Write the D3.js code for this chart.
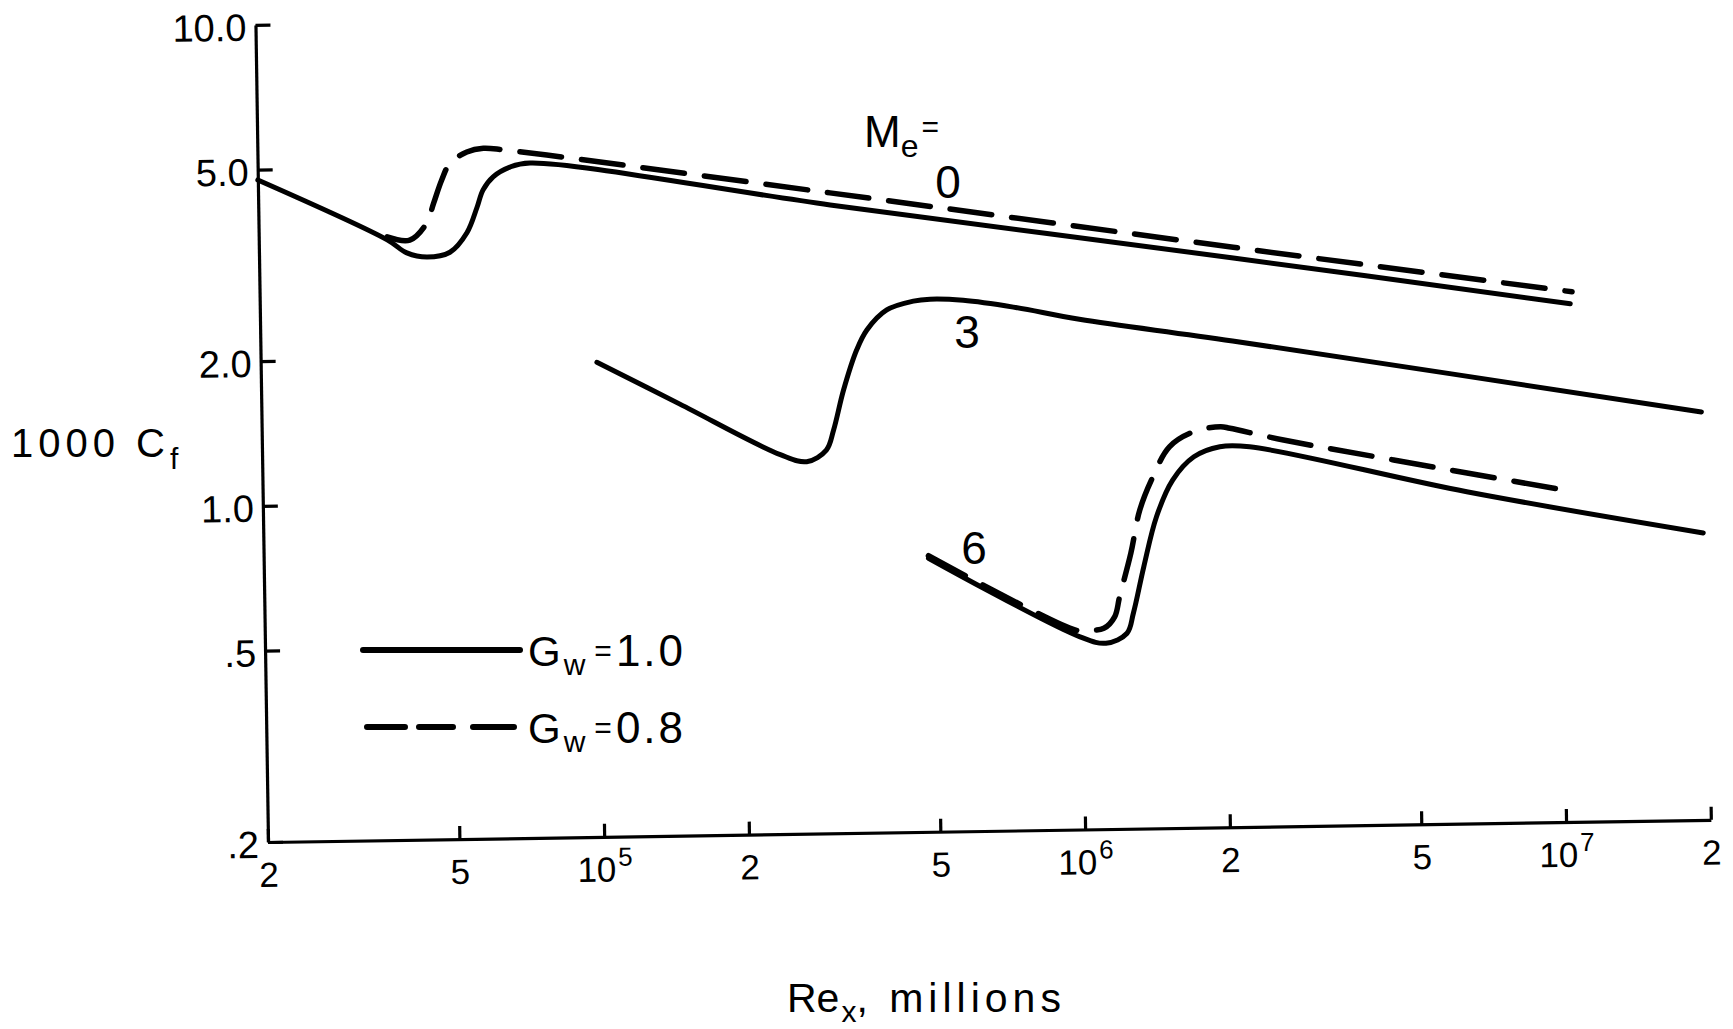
<!DOCTYPE html>
<html><head><meta charset="utf-8">
<script src="https://cdn.jsdelivr.net/npm/d3@7"></script>
<style>
html,body{margin:0;padding:0;background:#fff;}
svg{display:block;}
text{font-family:"Liberation Sans",Arial,sans-serif;fill:#000;}
</style>
</head><body>
<svg id="chart" width="1733" height="1029"></svg>
<script>
// ---- axis ticks ----
const xTickValues = [2e4, 5e4, 1e5, 2e5, 5e5, 1e6, 2e6, 5e6, 1e7, 2e7];
const xTickLabels = ["2", "5", "10^5", "2", "5", "10^6", "2", "5", "10^7", "2"];
const yTickValues = [0.2, 0.5, 1, 2, 5, 10];
const yTickLabels = [".2", ".5", "1.0", "2.0", "5.0", "10.0"];

// ---- series: Re_x and 1000 Cf ----
// Me = 0, Gw = 1.0 (solid)
const reM0G10 = [2.0e4, 3.70e4, 4.06e4, 4.47e4, 4.99e4, 5.42e4, 5.70e4, 5.87e4, 6.17e4, 6.69e4, 7.37e4, 3.09e5, 2.12e6, 1.06e7];
const cfM0G10 = [4.76, 3.54, 3.32, 3.25, 3.32, 3.64, 4.11, 4.46, 4.75, 4.97, 5.06, 4.05, 3.05, 2.39];
// Me = 0, Gw = 0.8 (dashed)
const reM0G08 = [3.70e4, 4.12e4, 4.47e4, 4.63e4, 4.82e4, 5.02e4, 5.45e4, 5.90e4, 6.49e4, 7.99e4, 3.09e5, 2.12e6, 1.07e7];
const cfM0G08 = [3.59, 3.53, 3.82, 4.20, 4.69, 5.08, 5.36, 5.45, 5.40, 5.25, 4.29, 3.21, 2.53];
// Me = 3, Gw = 1.0 (solid)
const reM3G10 = [1.00e5, 1.48e5, 2.39e5, 2.71e5, 2.98e5, 3.09e5, 3.25e5, 3.47e5, 3.65e5, 4.02e5, 4.57e5, 4.95e5, 5.80e5, 7.37e5, 1.01e6, 2.10e6, 1.97e7];
const cfM3G10 = [1.94, 1.58, 1.23, 1.187, 1.253, 1.379, 1.668, 2.018, 2.22, 2.44, 2.54, 2.56, 2.54, 2.45, 2.30, 2.05, 1.41];
// Me = 6, Gw = 1.0 (solid)
const reM6G10 = [4.82e5, 9.90e5, 1.12e6, 1.24e6, 1.28e6, 1.35e6, 1.44e6, 1.56e6, 1.73e6, 1.96e6, 2.26e6, 6.37e6, 1.97e7];
const cfM6G10 = [0.741, 0.503, 0.487, 0.510, 0.561, 0.700, 0.889, 1.058, 1.181, 1.237, 1.234, 0.979, 0.790];
// Me = 6, Gw = 0.8 (dashed)
const reM6G08 = [4.82e5, 9.67e5, 1.01e6, 1.11e6, 1.17e6, 1.20e6, 1.27e6, 1.33e6, 1.42e6, 1.54e6, 1.73e6, 1.97e6, 2.06e6, 2.66e6, 4.50e6, 9.94e6];
const cfM6G08 = [0.750, 0.520, 0.519, 0.523, 0.552, 0.608, 0.747, 0.919, 1.077, 1.241, 1.331, 1.361, 1.350, 1.271, 1.146, 0.984];

const seriesList = [
  {re: reM0G10, cf: cfM0G10, dashed: false},
  {re: reM0G08, cf: cfM0G08, dashed: true},
  {re: reM3G10, cf: cfM3G10, dashed: false},
  {re: reM6G10, cf: cfM6G10, dashed: false},
  {re: reM6G08, cf: cfM6G08, dashed: true}
];

const curveLabels = [
  {t: "0", x: 948, y: 181},
  {t: "3", x: 967, y: 331},
  {t: "6", x: 974, y: 547}
];

// ---- layout ----
const svg = d3.select("#chart");
const x0 = 268, y0 = 842, decade = 481;
const x = d3.scaleLog().domain([2e4, 2e7]).range([x0, x0 + 3 * decade]);
const y = d3.scaleLog().domain([0.2, 10]).range([y0, y0 - Math.log10(50) * decade]);

// the scanned figure is slightly rotated
const plot = svg.append("g").attr("transform", `rotate(-0.88, ${x0}, ${y0})`);

// y axis
const yAxis = d3.axisLeft(y).tickValues(yTickValues)
  .tickFormat((d, i) => yTickLabels[i]).tickSizeInner(-15).tickSizeOuter(0).tickPadding(9);
const gy = plot.append("g").attr("transform", `translate(${x0},0)`).call(yAxis);
gy.select(".domain").attr("stroke", "#000").attr("stroke-width", 3.2);
gy.selectAll(".tick line").attr("stroke", "#000").attr("stroke-width", 3.2);
gy.selectAll(".tick text").attr("font-size", 38).attr("dy", "0.4em")
  .style("font-family", '"Liberation Sans", Arial, sans-serif');

// x axis
const xAxis = d3.axisBottom(x).tickValues(xTickValues)
  .tickFormat(() => "").tickSizeInner(-13).tickSizeOuter(0).tickPadding(20);
const gx = plot.append("g").attr("transform", `translate(0,${y0})`).call(xAxis);
gx.select(".domain").attr("stroke", "#000").attr("stroke-width", 3.2);
gx.selectAll(".tick line").attr("stroke", "#000").attr("stroke-width", 3.2);
gx.selectAll(".tick text").each(function(d, i) {
  const t = d3.select(this).attr("font-size", 35).attr("dy", "0.71em")
    .style("font-family", '"Liberation Sans", Arial, sans-serif');
  const lab = xTickLabels[i];
  if (lab.includes("^")) {
    const [base, sup] = lab.split("^");
    t.append("tspan").text(base);
    t.append("tspan").text(sup).attr("font-size", 26).attr("dy", "-0.6em").attr("dx", 2);
  } else {
    t.text(lab);
  }
});

// curves
const line = d3.line()
  .x(d => x(d[0])).y(d => y(d[1]))
  .curve(d3.curveCatmullRom.alpha(0.5));
seriesList.forEach(s => {
  const pts = s.re.map((r, i) => [r, s.cf[i]]);
  plot.append("path").datum(pts)
    .attr("d", line)
    .attr("fill", "none")
    .attr("stroke", "#000")
    .attr("stroke-width", s.dashed ? 5.5 : 5)
    .attr("stroke-linecap", "round")
    .attr("stroke-linejoin", "round")
    .attr("stroke-dasharray", s.dashed ? "42 20" : null);
});

// curve labels
const ann = svg.append("g");
curveLabels.forEach(c => {
  ann.append("text").attr("x", c.x).attr("y", c.y).attr("text-anchor", "middle")
    .attr("dy", "0.36em").attr("font-size", 46).text(c.t);
});
// Me =
const me = ann.append("text").attr("x", 864).attr("y", 147).attr("font-size", 44);
me.append("tspan").text("M");
me.append("tspan").text("e").attr("font-size", 32).attr("dy", 10);
me.append("tspan").text("=").attr("font-size", 30).attr("dy", -20).attr("dx", 3);

// legend
const legend = ann.append("g");
legend.append("line").attr("x1", 363).attr("x2", 520).attr("y1", 650).attr("y2", 650)
  .attr("stroke", "#000").attr("stroke-width", 6).attr("stroke-linecap", "round");
legend.append("line").attr("x1", 367).attr("x2", 514).attr("y1", 727).attr("y2", 727)
  .attr("stroke", "#000").attr("stroke-width", 6).attr("stroke-linecap", "round")
  .attr("stroke-dasharray", "38 14 34 20 44");
[{v: "1.0", yb: 666}, {v: "0.8", yb: 743}].forEach(l => {
  const t = legend.append("text").attr("x", 528).attr("y", l.yb).attr("font-size", 42);
  t.append("tspan").text("G");
  t.append("tspan").text("w").attr("font-size", 30).attr("dy", 9).attr("dx", 3);
  t.append("tspan").text("=").attr("font-size", 30).attr("dy", -14).attr("dx", 9);
  t.append("tspan").text(l.v).attr("dy", 5).attr("dx", 4)
    .attr("font-size", 44).attr("letter-spacing", 3);
});

// axis titles
const yt = ann.append("text").attr("x", 11).attr("y", 457).attr("font-size", 40).attr("letter-spacing", 5);
yt.append("tspan").text("1000 C");
yt.append("tspan").text("f").attr("font-size", 30).attr("dy", 12).attr("dx", 0);

const xt = ann.append("text").attr("x", 787).attr("y", 1012).attr("font-size", 41);
xt.append("tspan").text("Re");
xt.append("tspan").text("x").attr("font-size", 30).attr("dy", 10).attr("dx", 2);
xt.append("tspan").text(", millions").attr("dy", -10).attr("letter-spacing", 5);
</script>
</body></html>
